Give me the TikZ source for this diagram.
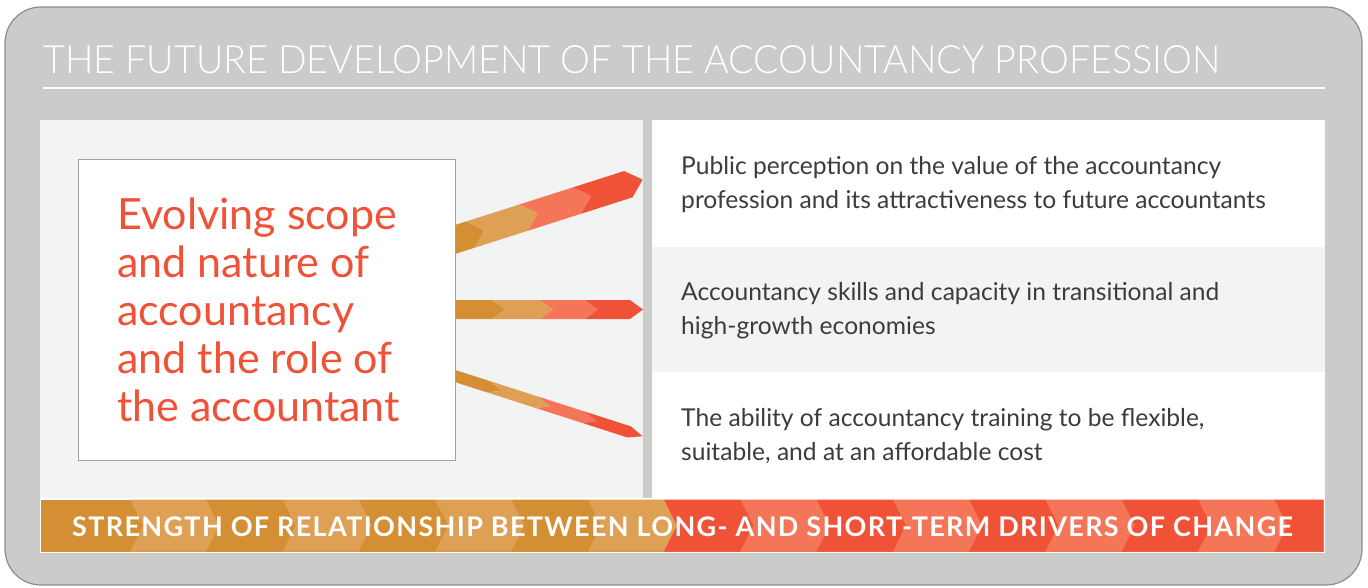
\documentclass[tikz,border=0pt]{standalone}
\usepackage{fontspec}
\setmainfont{Lato}
\newfontfamily\lightfont{Lato Light}[FakeStretch=0.966]
\newfontfamily\bannerfont{Lato}[LetterSpace=5]
\definecolor{frame_gray}{RGB}{203,203,202}
\definecolor{frame_line}{RGB}{140,140,140}
\definecolor{panel_gray}{RGB}{242,243,243}
\definecolor{box_line}{RGB}{160,160,160}
\definecolor{text_gray}{RGB}{60,60,60}
\definecolor{orange_dark}{RGB}{212,142,51}
\definecolor{orange_light}{RGB}{221,160,85}
\definecolor{red_light}{RGB}{244,117,87}
\definecolor{red_dark}{RGB}{239,82,54}
\begin{document}
\begin{tikzpicture}[x=1pt, y=-1pt, title_style/.style={anchor=base west,inner sep=0,text=white,font=\lightfont\fontsize{39}{39}\selectfont},box_style/.style={draw=box_line,fill=white,line width=1.2pt,minimum width=377pt,minimum height=301pt,anchor=north west,inner sep=0},lead_style/.style={anchor=base west,inner sep=0,align=left,text=red_dark,font=\fontsize{43}{48}\selectfont},item_style/.style={anchor=west,inner sep=0,align=left,text=text_gray,font=\fontsize{24.6}{34}\selectfont},band_style/.style={inner sep=0,text=white,font=\bannerfont\bfseries\fontsize{27}{27}\selectfont}]
      \useasboundingbox (0,0) rectangle (1368,587);
      \draw[frame_line, fill=frame_gray, rounded corners=36pt, line width=1.2pt] (5,7) rectangle (1362,585);
      \draw[white, line width=1.2pt] (43,88) -- (1325,88);
      \fill[white] (40,120) rectangle (1325,553);
      \fill[panel_gray] (40,120) rectangle (643,498);
      \fill[frame_gray] (643,120) rectangle (652,498);
      \fill[panel_gray] (652,247) rectangle (1325,372);
      \begin{scope}
        \clip (41,499.5) rectangle (1323.5,551.5);
        \fill[orange_dark] (41,499.5) rectangle (1323.5,551.5);
        \foreach \col [count=\k] in {orange_light,orange_dark,orange_light,orange_dark,orange_light,orange_dark,orange_light,red_dark,red_light,red_dark,red_light,red_dark,red_light,red_dark,red_light,red_dark}{
          \pgfmathsetmacro\xa{130+76.3*(\k-1)}
          \pgfmathsetmacro\xb{\xa+76.3}
          \fill[\col] (\xa,499.5) -- (\xb,499.5) -- (\xb+13,525.5) -- (\xb,551.5) -- (\xa,551.5) -- (\xa+13,525.5) -- cycle;
        }
      \end{scope}
      \begin{scope}[shift={(455,239.5)}, rotate=17.7]
        \foreach \xa/\xb/\col in {-40/16/orange_dark, 16/72/orange_light, 72/128/red_light}
          \fill[\col] (\xa,-13.8) -- (\xb,-13.8) -- (\xb+15,0) -- (\xb,13.8) -- (\xa,13.8) -- (\xa+15,0) -- cycle;
        \fill[red_dark] (128,-13.8) -- (182,-13.8) -- (197,0) -- (182,13.8) -- (128,13.8) -- (143,0) -- cycle;
      \end{scope}
      \begin{scope}[shift={(455,309.5)}]
        \foreach \xa/\xb/\col in {-40/37/orange_dark, 37/85/orange_light, 85/130/red_light}
          \fill[\col] (\xa,-9.5) -- (\xb,-9.5) -- (\xb+13,0) -- (\xb,9.5) -- (\xa,9.5) -- (\xa+13,0) -- cycle;
        \fill[red_dark] (130,-9.5) -- (175,-9.5) -- (188,0) -- (175,9.5) -- (130,9.5) -- (143,0) -- cycle;
      \end{scope}
      \begin{scope}[shift={(455,376)}, rotate=-17.8]
        \foreach \xa/\xb/\col in {-40/35/orange_dark, 35/86/orange_light, 86/135/red_light}
          \fill[\col] (\xa,-5.8) -- (\xb,-5.8) -- (\xb+14,0) -- (\xb,5.8) -- (\xa,5.8) -- (\xa+14,0) -- cycle;
        \fill[red_dark] (135,-5.8) -- (183,-5.8) -- (197,0) -- (183,5.8) -- (135,5.8) -- (149,0) -- cycle;
      \end{scope}
      \draw
        (43,73) node[title_style] (title){THE FUTURE DEVELOPMENT OF THE ACCOUNTANCY PROFESSION}
        (78,159) node[box_style] (box){}
        (117,421) node[lead_style] (lead){Evolving scope\\and nature of\\accountancy\\and the role of\\the accountant}
        (681,185) node[item_style] (item1){Public perception on the value of the accountancy\\profession and its attractiveness to future accountants}
        (681,311) node[item_style] (item2){Accountancy skills and capacity in transitional and\\high-growth economies}
        (681,436) node[item_style] (item3){The ability of accountancy training to be flexible,\\suitable, and at an affordable cost}
        (682.5,526.5) node[band_style] (band){STRENGTH OF RELATIONSHIP BETWEEN LONG- AND SHORT-TERM DRIVERS OF CHANGE};
    \end{tikzpicture}
\end{document}
